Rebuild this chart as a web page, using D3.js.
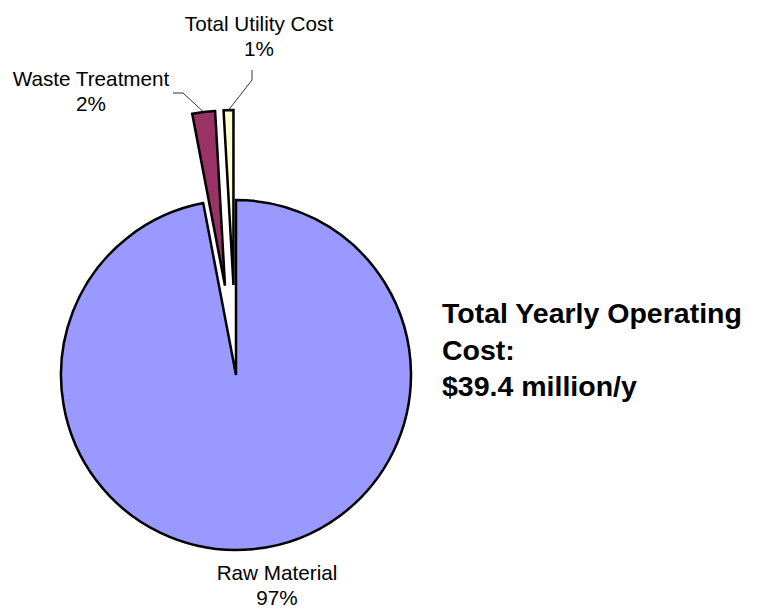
<!DOCTYPE html>
<html>
<head>
<meta charset="utf-8">
<script src="https://cdn.jsdelivr.net/npm/d3@7"></script>
<style>
  html, body { margin: 0; padding: 0; background: #fff; }
  svg { display: block; font-family: Arial, "Liberation Sans", sans-serif; }
</style>
</head>
<body>
<svg id="chart" width="758" height="608"></svg>
<script>
// Yearly operating cost breakdown (share of total, %)
const categories = ["Raw Material", "Waste Treatment", "Total Utility Cost"];
const costShare = [97.0, 2.1, 0.9];
const sliceColors = ["#9999FF", "#993366", "#FFFFCC"];
const explodeDist = [0, 90, 90];
const summaryLines = ["Total Yearly Operating", "Cost:", "$39.4 million/y"];

// layout
const W = 758, H = 608;
const cx = 236, cy = 375, R = 175;
// label anchors (relative to pie centre) and leader-line elbows
const labelOffset = [[41, 205], [-145, -289], [23, -344]];
const leaderPath = [null, [[-63, -282], [-53, -282]], [[16, -305], [16, -295]]];

const svg = d3.select("#chart");
const g = svg.append("g").attr("transform", `translate(${cx},${cy})`);

const pie = d3.pie().sort(null).value(d => d.value);
const arcs = pie(categories.map((c, i) => ({ name: c, value: costShare[i], i })));
const arc = d3.arc().innerRadius(0).outerRadius(R);
const total = d3.sum(costShare);

function shift(a, dist) {
  const mid = (a.startAngle + a.endAngle) / 2;
  return [Math.sin(mid) * dist, -Math.cos(mid) * dist];
}

g.selectAll("path.slice")
  .data(arcs)
  .join("path")
  .attr("class", "slice")
  .attr("d", arc)
  .attr("transform", d => {
    const [dx, dy] = shift(d, explodeDist[d.data.i]);
    return `translate(${dx},${dy})`;
  })
  .attr("fill", d => sliceColors[d.data.i])
  .attr("stroke", "#000")
  .attr("stroke-width", 2.5)
  .attr("stroke-linejoin", "miter");

// leader lines from label to slice edge
arcs.forEach(d => {
  const pts = leaderPath[d.data.i];
  if (!pts) return;
  const [ex, ey] = shift(d, explodeDist[d.data.i]);
  const [ox, oy] = shift(d, R);
  const end = [ex + ox, ey + oy];
  g.append("path")
    .attr("d", d3.line()([...pts, end]))
    .attr("fill", "none")
    .attr("stroke", "#333")
    .attr("stroke-width", 1);
});

// category labels with percentages
const pct = d3.format(".0f");
arcs.forEach(d => {
  const [lx, ly] = labelOffset[d.data.i];
  const t = g.append("text")
    .attr("text-anchor", "middle")
    .attr("font-size", 20.7)
    .attr("fill", "#000");
  t.append("tspan").attr("x", lx).attr("y", ly).text(d.data.name);
  t.append("tspan").attr("x", lx).attr("y", ly + 25).text(pct(d.data.value / total * 100) + "%");
});

// summary text
const s = svg.append("text")
  .attr("font-size", 28.5)
  .attr("font-weight", "bold")
  .attr("fill", "#000");
summaryLines.forEach((line, i) => {
  s.append("tspan").attr("x", 442).attr("y", 323 + i * 36.5).text(line);
});
</script>
</body>
</html>
